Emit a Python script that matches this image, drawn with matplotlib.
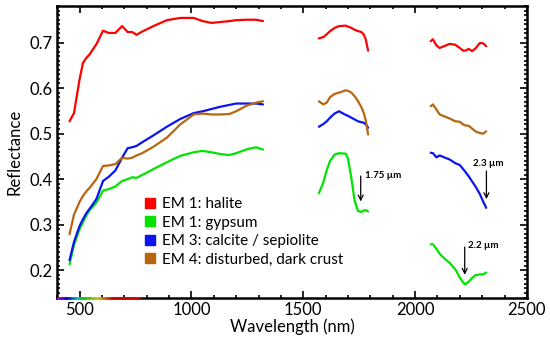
import numpy as np
import matplotlib
matplotlib.use("Agg")
import matplotlib.pyplot as plt
from matplotlib.lines import Line2D
from matplotlib.collections import LineCollection
from matplotlib.ticker import MultipleLocator

plt.rcParams['font.family'] = ['Lato', 'DejaVu Sans']

# wavelength grids (nm) for the three spectral windows
wl_vnir = [455, 475, 500, 515, 530, 545, 575, 605, 630, 660, 690, 715, 735, 755,
           780, 830, 890, 950, 1010, 1050, 1090, 1130, 1170, 1200, 1250, 1290, 1320]
wl_swir1 = [1570, 1590, 1605, 1620, 1640, 1660, 1690, 1700, 1715, 1730, 1745,
            1760, 1770, 1780, 1790]
wl_swir2 = [2070, 2080, 2095, 2110, 2135, 2155, 2180, 2200, 2215, 2225, 2240,
            2255, 2270, 2290, 2305, 2318]

# EM 1: halite
halite_vnir = [0.527, 0.545, 0.619, 0.655, 0.666, 0.674, 0.696, 0.726, 0.721, 0.721,
               0.736, 0.723, 0.723, 0.717, 0.724, 0.736, 0.749, 0.754, 0.754, 0.747,
               0.743, 0.745, 0.747, 0.749, 0.750, 0.750, 0.747]
halite_swir1 = [0.709, 0.712, 0.718, 0.725, 0.732, 0.736, 0.737, 0.735, 0.732, 0.728,
                0.725, 0.723, 0.718, 0.706, 0.682]
halite_swir2 = [0.703, 0.707, 0.694, 0.688, 0.693, 0.697, 0.695, 0.688, 0.682, 0.682,
                0.686, 0.681, 0.687, 0.699, 0.698, 0.692]

# EM 1: gypsum
gypsum_vnir = [0.213, 0.255, 0.290, 0.305, 0.320, 0.332, 0.348, 0.375, 0.378, 0.384,
               0.396, 0.400, 0.404, 0.403, 0.409, 0.422, 0.437, 0.451, 0.459, 0.462,
               0.459, 0.455, 0.453, 0.457, 0.466, 0.470, 0.465]
gypsum_swir1 = [0.369, 0.393, 0.420, 0.440, 0.454, 0.457, 0.456, 0.445, 0.403, 0.352,
                0.330, 0.328, 0.331, 0.332, 0.329]
gypsum_swir2 = [0.257, 0.257, 0.247, 0.236, 0.224, 0.216, 0.202, 0.184, 0.173, 0.169,
                0.175, 0.183, 0.189, 0.191, 0.191, 0.195]

# EM 3: calcite / sepiolite
calcite_vnir = [0.222, 0.262, 0.297, 0.312, 0.325, 0.335, 0.356, 0.396, 0.405, 0.419,
                0.447, 0.468, 0.470, 0.473, 0.481, 0.496, 0.515, 0.532, 0.545, 0.549,
                0.554, 0.559, 0.563, 0.566, 0.566, 0.566, 0.564]
calcite_swir1 = [0.515, 0.521, 0.527, 0.535, 0.544, 0.549, 0.541, 0.539, 0.535, 0.531,
                 0.527, 0.525, 0.524, 0.520, 0.513]
calcite_swir2 = [0.458, 0.457, 0.448, 0.452, 0.447, 0.443, 0.435, 0.431, 0.422, 0.416,
                 0.406, 0.395, 0.384, 0.367, 0.350, 0.337]

# EM 4: disturbed, dark crust
crust_vnir = [0.279, 0.322, 0.350, 0.363, 0.373, 0.381, 0.400, 0.429, 0.430, 0.433,
              0.447, 0.445, 0.447, 0.452, 0.457, 0.471, 0.491, 0.520, 0.542, 0.544,
              0.542, 0.542, 0.543, 0.549, 0.562, 0.568, 0.571]
crust_swir1 = [0.571, 0.564, 0.568, 0.580, 0.587, 0.590, 0.595, 0.594, 0.590, 0.582,
               0.571, 0.558, 0.546, 0.528, 0.498]
crust_swir2 = [0.560, 0.564, 0.553, 0.542, 0.537, 0.533, 0.527, 0.526, 0.520, 0.518,
               0.517, 0.511, 0.505, 0.501, 0.500, 0.505]

labels = ['EM 1: halite', 'EM 1: gypsum', 'EM 3: calcite / sepiolite',
          'EM 4: disturbed, dark crust']
colors = ['#ff0000', '#00e400', '#0a14f0', '#b8650f']

# absorption features: (wavelength nm, arrow top, arrow tip, label)
feat_wl = [1757, 2319, 2222]
feat_top = [0.413, 0.424, 0.257]
feat_tip = [0.345, 0.350, 0.184]
feat_text = ['1.75 µm', '2.3 µm', '2.2 µm']


def wl_to_rgb(w):
    # rough visible spectrum colour for the strip under the axis
    if w < 440:
        r, g, b = -(w - 440) / 40, 0.0, 1.0
    elif w < 490:
        r, g, b = 0.0, (w - 440) / 50, 1.0
    elif w < 510:
        r, g, b = 0.0, 1.0, -(w - 510) / 20
    elif w < 580:
        r, g, b = (w - 510) / 70, 1.0, 0.0
    elif w < 645:
        r, g, b = 1.0, -(w - 645) / 65, 0.0
    else:
        r, g, b = 1.0, 0.0, 0.0
    return (r, g, b)


fig = plt.figure(figsize=(5.5, 3.37), dpi=100)
ax = fig.add_axes([0.104, 0.117, 0.854, 0.865])

series = [
    (halite_vnir, halite_swir1, halite_swir2),
    (gypsum_vnir, gypsum_swir1, gypsum_swir2),
    (calcite_vnir, calcite_swir1, calcite_swir2),
    (crust_vnir, crust_swir1, crust_swir2),
]
for (v, s1, s2), c in zip(series, colors):
    for wl, r in ((wl_vnir, v), (wl_swir1, s1), (wl_swir2, s2)):
        ax.plot(wl, r, color=c, lw=1.6, solid_joinstyle='round', solid_capstyle='round')

for w, t, p, txt in zip(feat_wl, feat_top, feat_tip, feat_text):
    ax.annotate('', xy=(w, p), xytext=(w, t),
                arrowprops=dict(arrowstyle='->', color='black', lw=0.9, mutation_scale=9))
ax.text(1775, 0.408, feat_text[0], fontsize=7, fontweight='bold', va='center', ha='left')
ax.text(2325, 0.434, feat_text[1], fontsize=7, fontweight='bold', va='center', ha='center')
ax.text(2236, 0.254, feat_text[2], fontsize=7, fontweight='bold', va='center', ha='left')

ax.set_xlim(400, 2500)
ax.set_ylim(0.14, 0.78)
ax.xaxis.set_major_locator(MultipleLocator(500))
ax.xaxis.set_minor_locator(MultipleLocator(100))
ax.yaxis.set_major_locator(MultipleLocator(0.1))
ax.yaxis.set_minor_locator(MultipleLocator(0.01))
ax.yaxis.set_major_formatter(plt.FuncFormatter(lambda v, p: f'{v:.1f}'))
ax.tick_params(which='both', direction='in', top=True, right=True, width=1.2, labelsize=12)
ax.tick_params(which='major', length=5)
ax.tick_params(which='minor', length=2.5)
for s in ax.spines.values():
    s.set_linewidth(1.8)

ax.set_xlabel('Wavelength (nm)', fontsize=12, labelpad=0)
ax.set_ylabel('Reflectance', fontsize=12, labelpad=5)

# visible spectrum strip along the bottom axis
strip_wl = np.arange(400, 772, 2)
pts = np.array([[w, 0.0] for w in strip_wl])
segs = [[pts[i], pts[i + 1]] for i in range(len(pts) - 1)]
lc = LineCollection(segs, colors=[wl_to_rgb(w) for w in strip_wl[:-1]], lw=2.2,
                    transform=ax.get_xaxis_transform(), clip_on=False, zorder=5)
ax.add_collection(lc)

handles = [Line2D([], [], marker='s', ls='', color=c, markersize=7.5) for c in colors]
ax.legend(handles, labels, loc='upper left', bbox_to_anchor=(0.185, 0.345), frameon=False,
          fontsize=11, borderpad=0, borderaxespad=0, handlelength=0.8, handletextpad=0.35,
          labelspacing=0.3)

fig.savefig('out.png', dpi=100)
